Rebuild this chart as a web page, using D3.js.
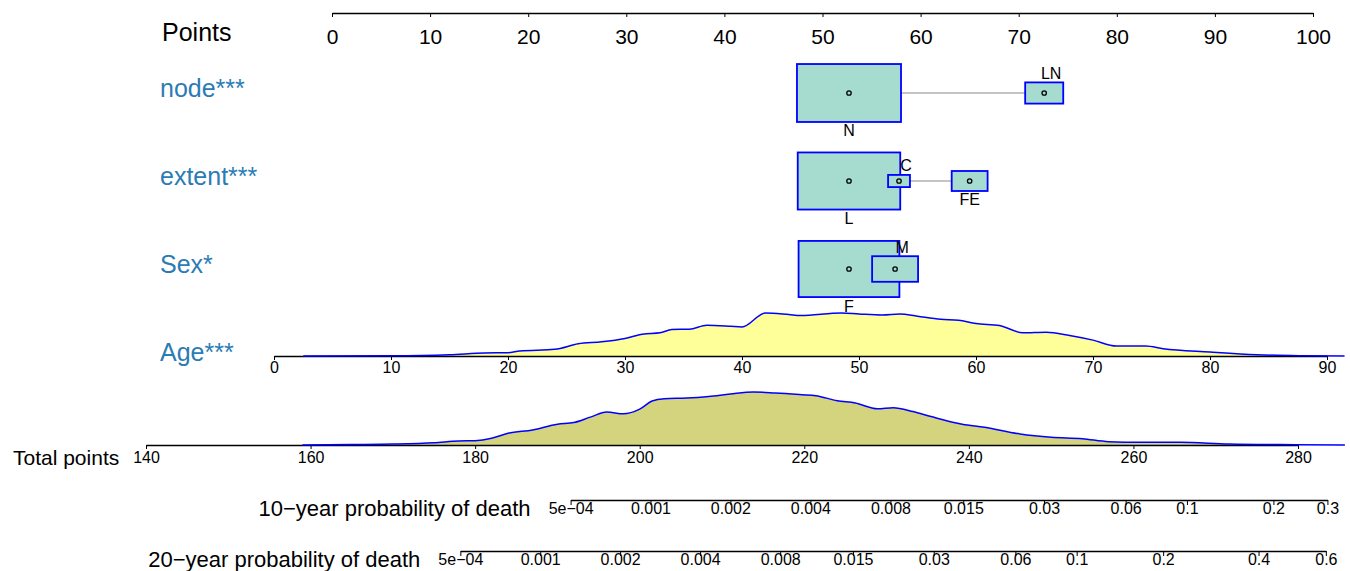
<!DOCTYPE html>
<html>
<head>
<meta charset="utf-8">
<script src="https://cdn.jsdelivr.net/npm/d3@7"></script>
<style>
  body { margin: 0; background: #fff; }
  svg { display: block; font-family: 'Liberation Sans', Arial, sans-serif; }
</style>
</head>
<body>
<div id="container"></div>
<script>
const pointTicks = [0, 10, 20, 30, 40, 50, 60, 70, 80, 90, 100];

// categorical predictors: score on the points axis and share of patients
const nodeLevels = ['N', 'LN'];
const nodePoints = [52.7, 72.6];
const nodeShare = [0.882, 0.118];

const extentLevels = ['L', 'C', 'FE'];
const extentPoints = [52.7, 57.8, 65.0];
const extentShare = [0.856, 0.039, 0.105];

const sexLevels = ['F', 'M'];
const sexPoints = [52.7, 57.4];
const sexShare = [0.828, 0.172];

const ageTicks = [0, 10, 20, 30, 40, 50, 60, 70, 80, 90];
const ageGrid = [2.5, 10, 15, 18, 20, 21, 24, 26, 28, 30, 31.5, 33, 34, 35.5, 37, 39, 40, 42, 44, 45,
  48.5, 50, 52, 53.5, 55, 57, 58.5, 60, 62, 64, 66, 68, 70, 72, 74.5, 76, 80, 84, 88, 91.5];
const ageDensity = [0, 0.2, 1.3, 3, 3.3, 5, 6.7, 12.3, 14.3, 17.7, 22, 23.3, 26.7, 27, 31, 30, 29.3, 43.3, 41.7, 40.7,
  43.3, 42.3, 41.3, 42.3, 40, 37, 36, 32.7, 30.7, 23.3, 24, 20.7, 16, 10, 10, 7.3, 4, 1.3, 0.3, 0];

const totalTicks = [140, 160, 180, 200, 220, 240, 260, 280];
const totalGrid = [159, 165, 170, 175, 178, 180, 182, 184, 187, 190, 192, 194, 196, 198, 200, 201.5, 203,
  205.7, 208.4, 211, 213.8, 216.5, 219.7, 221.4, 224, 226.2, 228.9, 230.8, 233.2, 235.4, 239.2, 241.9,
  246.2, 250, 253.8, 257, 260.8, 265.7, 271.6, 279.7, 285.7];
const totalDensity = [0, 0.5, 1, 2.3, 4, 4.3, 6.7, 11.7, 15, 20.7, 22.3, 27.7, 32.7, 31, 35.7, 43.7, 46,
  46.7, 48.3, 50.7, 52.7, 51.7, 50, 49, 44, 41.7, 36, 37, 33.3, 28.3, 20.7, 17.7,
  11, 7.7, 6.3, 3.3, 2.7, 2.7, 1, 0.3, 0];

const prob10Ticks = [0.0005, 0.001, 0.002, 0.004, 0.008, 0.015, 0.03, 0.06, 0.1, 0.2, 0.3];
const prob20Ticks = [0.0005, 0.001, 0.002, 0.004, 0.008, 0.015, 0.03, 0.06, 0.1, 0.2, 0.4, 0.6];
// total points where each probability axis starts (p = 5e-04) and points per unit of log cumulative hazard
const prob10Start = 191.6;
const prob20Start = 178.2;
const pointsPerLogH = 14.0;

const width = 1350;
const height = 571;
const labelColor = '#2b7bb4';
const boxFill = '#a6dbd0';
const boxStroke = '#0000ff';

const svg = d3.select('#container')
  .append('svg')
  .attr('width', width)
  .attr('height', height);

const xPoints = d3.scaleLinear().domain([0, 100]).range([332, 1313]);
const xAge = d3.scaleLinear().domain([0, 90]).range([274, 1327]);
const xTotal = d3.scaleLinear().domain([140, 280]).range([146, 1298]);
const boxSize = d3.scaleSqrt().domain([0, 1]).range([0, 110.8]);

function fmtProb(p) {
  return p < 0.001 ? '5e\u221204' : String(p);
}

function logH(p) {
  return Math.log(-Math.log(1 - p));
}

function probToTotal(start) {
  return (p) => start + pointsPerLogH * (logH(p) - logH(0.0005));
}

function styleAxis(g, fontSize, lineWidth) {
  g.selectAll('text')
    .attr('font-size', fontSize)
    .attr('font-family', "'Liberation Sans', Arial, sans-serif")
    .attr('fill', '#000');
  g.select('.domain').attr('stroke-width', lineWidth);
  g.selectAll('.tick line').attr('stroke-width', 1);
}

function rowLabel(text, x, y, color, size) {
  svg.append('text')
    .attr('x', x)
    .attr('y', y)
    .attr('dominant-baseline', 'central')
    .attr('font-size', size)
    .attr('fill', color)
    .text(text);
}

// Points axis
svg.append('g')
  .attr('transform', 'translate(0,13)')
  .call(d3.axisBottom(xPoints).tickValues(pointTicks).tickSize(4).tickSizeOuter(0).tickPadding(12))
  .call((g) => styleAxis(g, 21, 1.5));
rowLabel('Points', 162, 32, '#000', 25);

function drawFactor(levels, points, share, yMid, label) {
  const g = svg.append('g');
  const xs = points.map((p) => xPoints(p));
  g.append('line')
    .attr('x1', d3.min(xs))
    .attr('x2', d3.max(xs))
    .attr('y1', yMid)
    .attr('y2', yMid)
    .attr('stroke', '#c4c4c4')
    .attr('stroke-width', 2);

  const data = levels.map((lev, i) => ({
    lev, i, x: xPoints(points[i]), w: boxSize(share[i]), h: boxSize(share[i]) * 0.557
  }));

  g.selectAll('rect')
    .data(data)
    .join('rect')
    .attr('x', (d) => d.x - d.w / 2)
    .attr('y', (d) => yMid - d.h / 2)
    .attr('width', (d) => d.w)
    .attr('height', (d) => d.h)
    .attr('fill', boxFill)
    .attr('stroke', boxStroke)
    .attr('stroke-width', 1.8);

  g.selectAll('circle')
    .data(data)
    .join('circle')
    .attr('cx', (d) => d.x)
    .attr('cy', yMid)
    .attr('r', 2.2)
    .attr('fill', 'none')
    .attr('stroke', '#000')
    .attr('stroke-width', 1.3);

  g.selectAll('text.lev')
    .data(data)
    .join('text')
    .attr('class', 'lev')
    .attr('x', (d) => d.x + (d.i % 2 ? 7 : 0))
    .attr('y', (d) => (d.i % 2 ? yMid - d.h / 2 - 9 : yMid + d.h / 2 + 9))
    .attr('text-anchor', 'middle')
    .attr('dominant-baseline', 'central')
    .attr('font-size', 16)
    .attr('fill', '#000')
    .text((d) => d.lev);

  rowLabel(label, 160, yMid - 5, labelColor, 25);
}

drawFactor(nodeLevels, nodePoints, nodeShare, 93, 'node***');
drawFactor(extentLevels, extentPoints, extentShare, 181, 'extent***');
drawFactor(sexLevels, sexPoints, sexShare, 269, 'Sex*');

// Age density and axis
const ageBase = 356;
const yAge = d3.scaleLinear().domain([0, d3.max(ageDensity)]).range([0, 43]);
const ageArea = d3.area()
  .x((d, i) => xAge(ageGrid[i]))
  .y0(ageBase)
  .y1((d) => ageBase - yAge(d))
  .curve(d3.curveMonotoneX);
const ageLine = ageArea.lineY1();

svg.append('path').datum(ageDensity).attr('d', ageArea).attr('fill', '#ffff99');
svg.append('g')
  .attr('transform', `translate(0,${ageBase})`)
  .call(d3.axisBottom(xAge).tickValues(ageTicks).tickSize(4).tickSizeOuter(0).tickPadding(2))
  .call((g) => styleAxis(g, 16, 1.5));
svg.append('path').datum(ageDensity).attr('d', ageLine)
  .attr('fill', 'none').attr('stroke', '#0000ff').attr('stroke-width', 1.5);
rowLabel('Age***', 160, 352, labelColor, 25);

// Total points density and axis
const totalBase = 445;
const yTot = d3.scaleLinear().domain([0, d3.max(totalDensity)]).range([0, 53]);
const totArea = d3.area()
  .x((d, i) => xTotal(totalGrid[i]))
  .y0(totalBase)
  .y1((d) => totalBase - yTot(d))
  .curve(d3.curveMonotoneX);
const totLine = totArea.lineY1();

svg.append('path').datum(totalDensity).attr('d', totArea).attr('fill', '#d4d47f');
svg.append('g')
  .attr('transform', `translate(0,${totalBase})`)
  .call(d3.axisBottom(xTotal).tickValues(totalTicks).tickSize(4).tickSizeOuter(0).tickPadding(3))
  .call((g) => styleAxis(g, 16, 1.5));
svg.append('path').datum(totalDensity).attr('d', totLine)
  .attr('fill', 'none').attr('stroke', '#0000ff').attr('stroke-width', 1.5);
rowLabel('Total points', 13, 457, '#000', 21);

// probability axes
function probAxis(ticks, start, yAxis, title) {
  const toTotal = probToTotal(start);
  const x = d3.scaleLinear()
    .domain([logH(ticks[0]), logH(ticks[ticks.length - 1])])
    .range([xTotal(toTotal(ticks[0])), xTotal(toTotal(ticks[ticks.length - 1]))]);
  const axis = d3.axisBottom(x)
    .tickValues(ticks.map(logH))
    .tickFormat((v, i) => fmtProb(ticks[i]))
    .tickSize(5)
    .tickSizeOuter(0)
    .tickPadding(-2);
  svg.append('g')
    .attr('transform', `translate(0,${yAxis})`)
    .call(axis)
    .call((g) => styleAxis(g, 16, 1.5));
  svg.append('text')
    .attr('x', x.range()[0] - 40)
    .attr('y', yAxis + 8)
    .attr('text-anchor', 'end')
    .attr('dominant-baseline', 'central')
    .attr('font-size', 22)
    .text(title);
}

probAxis(prob10Ticks, prob10Start, 500, '10\u2212year probability of death');
probAxis(prob20Ticks, prob20Start, 551, '20\u2212year probability of death');
</script>
</body>
</html>
